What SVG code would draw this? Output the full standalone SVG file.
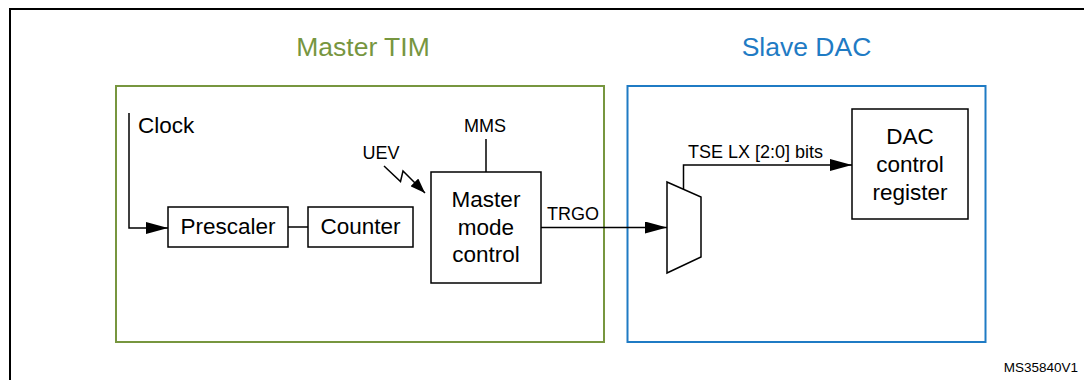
<svg xmlns="http://www.w3.org/2000/svg" width="1084" height="380" viewBox="0 0 1084 380">
<style>
  text { font-family: "Liberation Sans", Arial, sans-serif; fill: #000; }
  .box { fill: #fff; stroke: #000; stroke-width: 1.5; }
  .wire { fill: none; stroke: #000; stroke-width: 1.5; }
  .t22 { font-size: 22.5px; text-anchor: middle; }
  .t18 { font-size: 18px; }
  .title { font-size: 26.5px; text-anchor: middle; }
</style>
<defs>
  <marker id="arr" viewBox="0 0 22 12" refX="22" refY="6" markerWidth="22" markerHeight="12" markerUnits="userSpaceOnUse" orient="auto">
    <path d="M0,0 L22,6 L0,12 z" fill="#000"/>
  </marker>
  <marker id="arrs" viewBox="0 0 15 11" refX="15" refY="5.5" markerWidth="15" markerHeight="11" markerUnits="userSpaceOnUse" orient="auto">
    <path d="M0,0 L15,5.5 L0,11 z" fill="#000"/>
  </marker>
</defs>
<rect width="1084" height="380" fill="#fff"/>
<path d="M10,381 L10,9 L1085,9" fill="none" stroke="#000" stroke-width="2"/>

<g id="master-tim">
  <rect x="116" y="86" width="488" height="256" fill="none" stroke="#77963F" stroke-width="2"/>
  <text class="title" x="363" y="56" style="fill:#77963F">Master TIM</text>
</g>
<g id="slave-dac">
  <rect x="627.5" y="86" width="358" height="256" fill="none" stroke="#1F7BC4" stroke-width="2"/>
  <text class="title" x="806.5" y="56" style="fill:#1F7BC4">Slave DAC</text>
</g>

<g id="connectors">
  <path class="wire" d="M129,113 L129,228 L168,228" marker-end="url(#arr)"/>
  <path class="wire" d="M288,227 L308,227"/>
  <path class="wire" d="M486,139 L486,172"/>
  <path class="wire" d="M384,166 L400.5,181.5 L403,171 L425,193" marker-end="url(#arrs)"/>
  <path class="wire" d="M541,227.5 L667,227.5" marker-end="url(#arr)"/>
  <path class="wire" d="M683.5,189.5 L683.5,165 L852,165" marker-end="url(#arr)"/>
</g>

<g id="clock">
  <text class="t22" x="138" y="133" style="text-anchor:start">Clock</text>
</g>
<g id="prescaler">
  <rect class="box" x="168" y="207" width="120" height="40"/>
  <text class="t22" x="228" y="234">Prescaler</text>
</g>
<g id="counter">
  <rect class="box" x="308" y="207" width="105" height="40"/>
  <text class="t22" x="360.5" y="234">Counter</text>
</g>
<g id="uev">
  <text class="t18" x="362.5" y="159">UEV</text>
</g>
<g id="mms">
  <text class="t18" x="485" y="132" style="text-anchor:middle">MMS</text>
</g>
<g id="master-mode-control">
  <rect class="box" x="431" y="172" width="110" height="111"/>
  <text class="t22" x="486" y="207">Master</text>
  <text class="t22" x="486" y="235">mode</text>
  <text class="t22" x="486" y="262">control</text>
</g>
<g id="trgo">
  <text class="t18" x="547" y="220">TRGO</text>
</g>
<g id="mux">
  <polygon class="box" points="667,182 701,197 701,257 667,273"/>
</g>
<g id="tse-label">
  <text class="t18" x="688" y="158">TSE LX [2:0] bits</text>
</g>
<g id="dac-control-register">
  <rect class="box" x="852" y="109" width="116" height="110"/>
  <text class="t22" x="910" y="144">DAC</text>
  <text class="t22" x="910" y="172">control</text>
  <text class="t22" x="910" y="200">register</text>
</g>
<g id="ref">
  <text x="1078" y="372" style="font-size:13.5px;text-anchor:end">MS35840V1</text>
</g>
</svg>
